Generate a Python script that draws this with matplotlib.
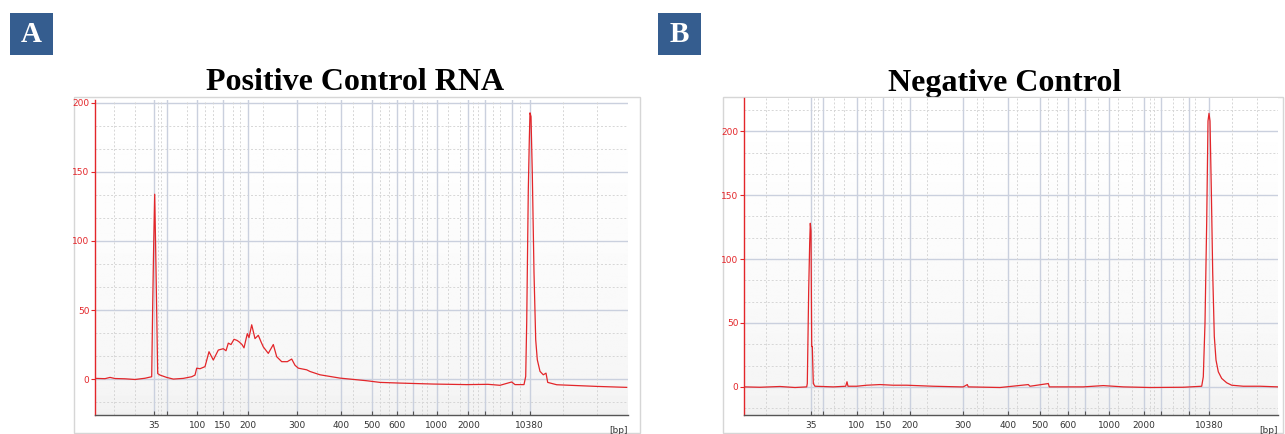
import numpy as np
import matplotlib.pyplot as plt
from matplotlib.patches import Rectangle

# Electropherograms (migration time in s vs fluorescence units)
# Panel A - positive control RNA
time_a = [18.0, 19.0, 19.5, 20.0, 21.0, 22.0, 23.0, 23.67, 23.77, 23.87, 23.97, 24.07,
          24.17, 24.27, 24.5, 25.17, 25.83, 26.83, 27.67, 28.0, 28.17, 28.5, 29.0, 29.4,
          29.83, 30.33, 30.83, 31.1, 31.33, 31.6, 31.9, 32.2, 32.4, 32.7, 32.9, 33.23,
          33.4, 33.67, 34.0, 34.33, 34.6, 34.83, 35.33, 35.83, 36.17, 36.67, 37.23, 37.67,
          38.0, 38.33, 39.17, 39.5, 40.5, 42.5, 45.17, 46.5, 48.5, 51.83, 55.17, 57.3,
          58.5, 59.67, 60.0, 60.9, 61.07, 61.17, 61.33, 61.43, 61.5, 61.6, 61.73, 61.9,
          62.07, 62.23, 62.5, 62.67, 62.83, 63.1, 63.27, 64.17, 66.5, 68.17, 71.17]
fu_a = [0.5, 0.3, 1.2, 0.4, 0.2, -0.3, 0.6, 1.7, 53.6, 98, 133.8, 93,
        48.8, 4, 2.9, 1.2, 0, 0.5, 1.7, 2.9, 7.9, 7.5, 9, 19.8,
        13.8, 21, 22, 20.5, 26, 25, 28.8, 28, 27, 25, 22.6, 32.9,
        30, 39.3, 29.3, 31.7, 27, 23.3, 18.6, 25, 16.2, 12.6, 12.6, 14.5,
        10, 7.9, 6.7, 5.5, 3.1, 0.7, -1.2, -2.4, -2.9, -3.6, -4.0, -3.8,
        -4.5, -2.1, -4.0, -4.0, 1.9, 40.6, 137, 173, 192.7, 190, 149, 77,
        28.5, 14, 5.6, 4.3, 3.1, 4.3, -2.4, -4.1, -4.8, -5.3, -6.0]

# Panel B - negative control
time_b = [18.0, 19.6, 21.6, 23.1, 24.27, 24.33, 24.47, 24.57, 24.63, 24.7, 24.77, 24.83,
          24.93, 25.1, 26.93, 28.17, 28.3, 28.4, 29.27, 30.27, 31.6, 32.9, 34.27, 36.9,
          39.6, 39.93, 40.33, 40.43, 43.6, 46.43, 46.6, 48.43, 48.53, 51.93, 53.93, 55.93,
          58.6, 61.93, 63.77, 63.93, 64.1, 64.27, 64.4, 64.5, 64.6, 64.73, 64.87, 65.03,
          65.2, 65.43, 65.77, 66.27, 66.77, 67.93, 69.6, 71.4]
fu_b = [0, -0.3, 0.3, -0.5, 0, 2.6, 76, 113, 128, 122, 31.6, 31.6,
        2.6, 0.5, 0, 0.5, 4, 0.5, 0.5, 1.3, 1.8, 1.3, 1.3, 0.5,
        0, 0, 1.8, 0, -0.5, 1.8, 0.5, 2.6, 0, 0, 1.0, 0,
        -0.5, -0.3, 0.5, 7.9, 50, 129, 208, 214, 208, 155, 89.5, 39.5,
        21, 11.8, 6.6, 3.2, 1.3, 0.5, 0.5, 0]

# ladder positions (s) and their bp labels
ladder_labels = ['35', '', '100', '150', '200', '300', '400', '500', '600', '',
                 '1000', '2000', '', '', '10380']
ladder_a = [23.93, 25.17, 28.23, 30.77, 33.3, 38.23, 42.57, 45.67, 48.23, 49.83,
            52.17, 55.33, 57.0, 59.67, 61.45]
ladder_b = [24.67, 25.93, 29.27, 31.93, 34.6, 39.87, 44.37, 47.6, 50.37, 52.1,
            54.5, 58.0, 59.67, 62.53, 64.53]
minor_a = [19.9, 22.0, 24.3, 24.6, 27.2, 29.0, 29.8, 31.8, 32.5, 34.8, 40.2, 41.0,
           43.8, 46.5, 47.4, 49.0, 50.7, 51.2, 53.3, 54.5, 55.8, 56.3, 57.8, 58.5,
           60.5, 64.8, 68.2]
minor_b = [20.2, 22.43, 25.0, 25.43, 27.0, 28.03, 30.1, 30.7, 32.93, 33.67, 36.27,
           41.27, 41.93, 45.27, 48.43, 49.27, 51.1, 53.43, 55.43, 56.77, 58.6, 59.0,
           60.93, 61.87, 63.1, 66.77, 69.27]

RED = '#e3262a'
fig = plt.figure(figsize=(12.85, 4.34), dpi=100)


def frame(x0, x1, y0, y1):
    W, H = 1285, 434
    r = Rectangle((x0 / W, 1 - y1 / H), (x1 - x0) / W, (y1 - y0) / H,
                  transform=fig.transFigure, facecolor='white',
                  edgecolor='#d6d6d6', lw=1, zorder=-1)
    fig.patches.append(r)


def panel(rect, t, fu, ladder, minor, ylim, xlim):
    ax = fig.add_axes(rect)
    # light grey fade towards the bottom of the plot area
    grad = np.clip(0.94 + 0.06 * np.linspace(0, 1, 256) ** 0.45, 0, 1)[:, None]
    ax.imshow(np.repeat(grad, 2, axis=1), cmap='gray', vmin=0, vmax=1,
              extent=[0, 1, 0, 1], transform=ax.transAxes, aspect='auto',
              origin='lower', zorder=0)
    for y in np.arange(-50 / 3, ylim[1], 50 / 3):
        if abs(y / 50 - round(y / 50)) < 1e-6:
            ax.axhline(y, color='#cad0de', lw=1.0, zorder=1)
        else:
            ax.axhline(y, color='#d6d6d6', lw=0.7, ls=(0, (2, 2)), zorder=1)
    for x in minor:
        ax.axvline(x, color='#d6d6d6', lw=0.7, ls=(0, (2, 2)), zorder=1)
    for x in ladder:
        ax.axvline(x, color='#cad0de', lw=1.0, zorder=1)
    ax.plot(t, fu, color=RED, lw=0.9, zorder=3)
    ax.set_xlim(*xlim)
    ax.set_ylim(*ylim)
    ax.set_yticks([0, 50, 100, 150, 200])
    ax.set_xticks(ladder)
    ax.set_xticklabels(ladder_labels)
    ax.tick_params(axis='y', colors=RED, labelsize=6.5, length=3, width=0.8, pad=1)
    ax.tick_params(axis='x', colors='#555555', labelcolor='#333333', labelsize=6.5,
                   length=3, width=0.8, direction='in', pad=4)
    for s in ['top', 'right']:
        ax.spines[s].set_visible(False)
    ax.spines['left'].set_color(RED)
    ax.spines['left'].set_linewidth(1.0)
    ax.spines['bottom'].set_color('#555555')
    ax.spines['bottom'].set_linewidth(1.0)
    ax.text(1.0, -0.035, '[bp]', transform=ax.transAxes, ha='right', va='top',
            fontsize=6.5, color='#333333')
    return ax


frame(74, 640, 97, 433)
frame(723, 1283, 97, 433)

panel([95 / 1285, 1 - 415 / 434, 533 / 1285, 315 / 434], time_a, fu_a,
      ladder_a, minor_a, (-26, 202), (18.0, 71.3))
panel([744 / 1285, 1 - 415 / 434, 534 / 1285, 317 / 434], time_b, fu_b,
      ladder_b, minor_b, (-22, 226), (18.0, 71.4))

# titles (B title partly hidden behind the chart frame, as in the original)
serif = 'Liberation Serif'
fig.text(355 / 1285, 1 - 83 / 434, 'Positive Control RNA', ha='center', va='center',
         fontsize=23, fontweight='bold', family=serif, zorder=-2)
fig.text(1005 / 1285, 1 - 84 / 434, 'Negative Control', ha='center', va='center',
         fontsize=23, fontweight='bold', family=serif, zorder=-2)

# panel letters
for x0, lab in [(10, 'A'), (658, 'B')]:
    fig.patches.append(Rectangle((x0 / 1285, 1 - 55 / 434), 43 / 1285, 42 / 434,
                                 transform=fig.transFigure, facecolor='#355d8f',
                                 edgecolor='none'))
    fig.text((x0 + 21.5) / 1285, 1 - 35 / 434, lab, ha='center', va='center',
             fontsize=21, fontweight='bold', family=serif, color='white')

fig.savefig('out.png', dpi=100)
